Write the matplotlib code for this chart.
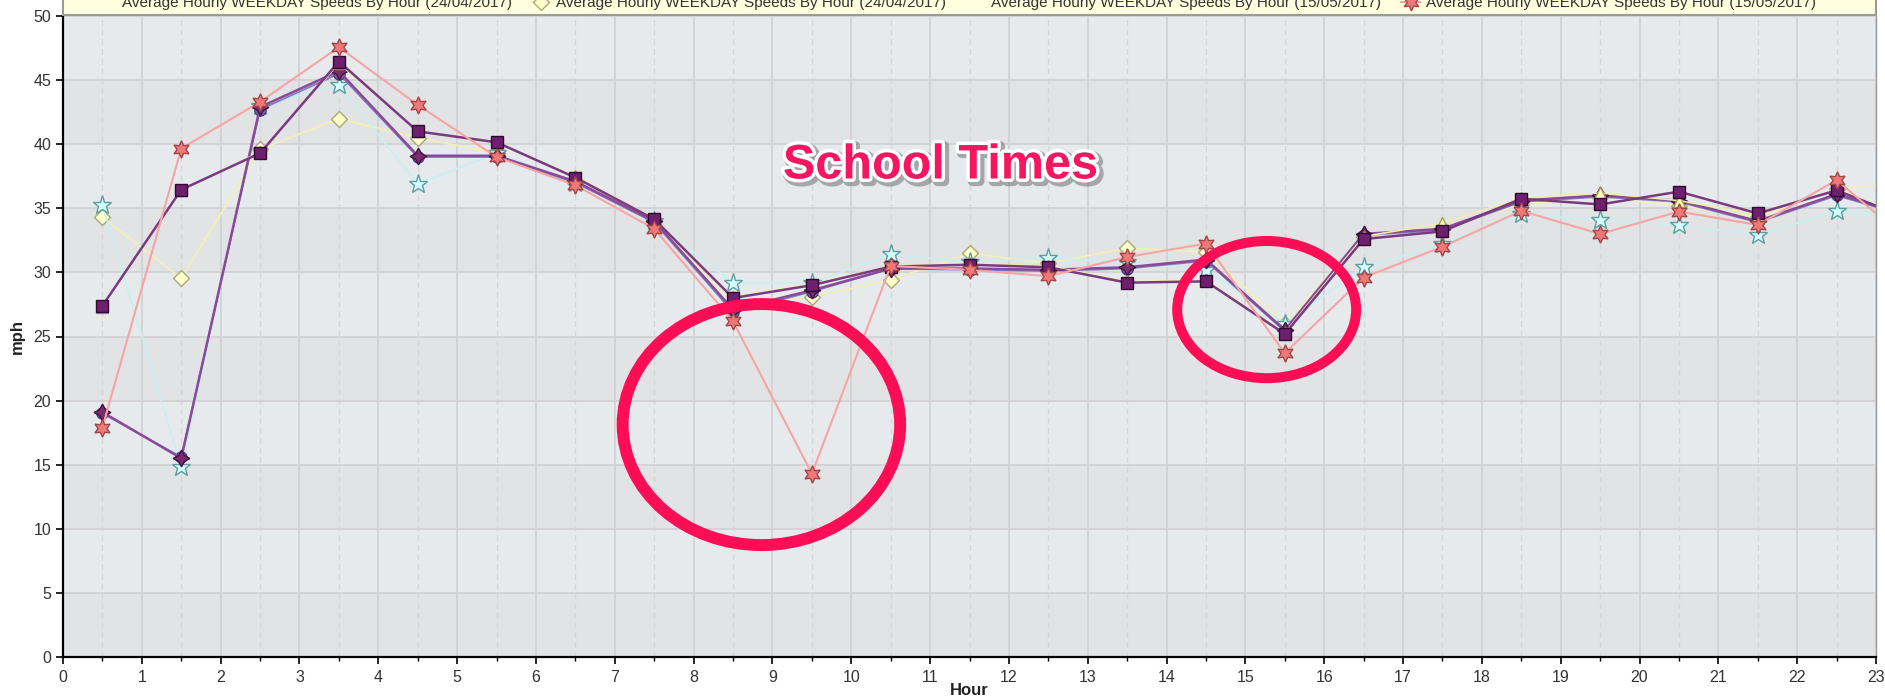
import matplotlib
matplotlib.use("Agg")
import matplotlib.pyplot as plt
from matplotlib.lines import Line2D
from matplotlib.patches import Ellipse, Rectangle
import matplotlib.patheffects as pe
import numpy as np

plt.rcParams['font.family'] = ['Liberation Sans', 'DejaVu Sans']

# ---------------- data ----------------
hours = [0.5, 1.5, 2.5, 3.5, 4.5, 5.5, 6.5, 7.5, 8.5, 9.5, 10.5, 11.5,
         12.5, 13.5, 14.5, 15.5, 16.5, 17.5, 18.5, 19.5, 20.5, 21.5, 22.5, 23.5]

sq_vals = [27.4, 36.45, 39.3, 46.45, 41.0, 40.15, 37.4, 34.15, 28.0, 29.0, 30.45, 30.6,
           30.4, 29.2, 29.3, 25.2, 32.6, 33.2, 35.75, 35.3, 36.3, 34.6, 36.4, 34.0]
star4_vals = [19.1, 15.5, 42.9, 45.7, 39.1, 39.1, 37.1, 34.0, 27.1, 28.6, 30.3, 30.3,
              30.2, 30.4, 31.0, 25.5, 33.0, 33.4, 35.6, 36.0, 35.6, 34.0, 36.1, 34.3]
circle_vals = [19.0, 15.6, 42.7, 45.5, 39.0, 39.0, 37.0, 33.9, 26.9, 28.5, 30.3, 30.2,
               30.1, 30.3, 30.9, 25.4, 32.9, 33.3, 35.5, 35.9, 35.5, 33.9, 36.0, 34.2]
tri_vals = [27.3, 36.4, 39.4, 46.3, 41.0, 40.1, 37.5, 34.2, 28.1, 29.1, 30.5, 30.7,
            30.5, 29.3, 29.4, 25.3, 32.8, 33.85, 35.8, 36.2, 35.6, 34.5, 36.5, 34.1]
diamond_vals = [34.3, 29.55, 39.6, 42.0, 40.5, 39.3, 37.0, 34.0, 27.5, 28.1, 29.4, 31.5,
                30.7, 31.9, 31.6, 26.0, 32.8, 33.5, 35.3, 35.9, 35.2, 34.3, 36.5, 37.1]
cyan_vals = [35.25, 14.8, 43.0, 44.6, 36.9, 39.3, 37.0, 34.0, 29.2, 29.2, 31.4, 30.8,
             31.1, 30.8, 30.2, 26.0, 30.4, 32.2, 34.55, 34.1, 33.7, 32.9, 34.8, 34.4]
red_vals = [17.9, 39.66, 43.3, 47.57, 43.06, 39.0, 36.8, 33.4, 26.2, 14.3, 30.5, 30.2,
            29.7, 31.2, 32.25, 23.7, 29.6, 32.0, 34.8, 33.0, 34.75, 33.7, 37.2, 32.0]

legend_labels = ["Average Hourly WEEKDAY Speeds By Hour (24/04/2017)",
                 "Average Hourly WEEKDAY Speeds By Hour (24/04/2017)",
                 "Average Hourly WEEKDAY Speeds By Hour (15/05/2017)",
                 "Average Hourly WEEKDAY Speeds By Hour (15/05/2017)"]
annotation_text = "School Times"

# ---------------- figure ----------------
W, H = 1885, 698
fig = plt.figure(figsize=(W / 100, H / 100), dpi=100)
L, R, B, T = 63 / W, 1876 / W, 1 - 657 / H, 1 - 16 / H
ax = fig.add_axes([L, B, R - L, T - B])
ax.set_xlim(0, 23)
ax.set_ylim(0, 50)

for k in range(10):
    ax.axhspan(k * 5, (k + 1) * 5, color='#E7EAED' if k % 2 else '#E2E3E5', lw=0, zorder=0)

ax.set_xticks(range(24))
ax.set_xticks(np.arange(0.5, 23, 1), minor=True)
ax.set_yticks(range(0, 51, 5))
ax.grid(which='major', axis='both', color='#D2D2D4', lw=1.3, zorder=0.5)
ax.grid(which='minor', axis='x', color='#D6D6D8', lw=1.0, ls=(0, (4, 3)), zorder=0.5)
ax.set_axisbelow(True)

styles = [
    (diamond_vals, dict(marker='D', ms=8, mfc='#FFFFCC', mec='#A8A878', color='#F2EFB8', lw=1.3)),
    (cyan_vals, dict(marker='*', ms=14, mfc='#D2FFFF', mec='#5E9E9E', color='#C8F0F0', lw=1.3)),
    (circle_vals, dict(marker='o', ms=8, mfc='#6C6CC0', mec='#404080', color='#8080C8', lw=1.3)),
    (star4_vals, dict(marker=(4, 1, 0), ms=12, mfc='#7B2B70', mec='#4A1040', color='#8B4A95', lw=1.8)),
    (tri_vals, dict(marker='^', ms=8, mfc='#FFFFB0', mec='#A0A060', color='#F0EDB0', lw=1.2)),
    (sq_vals, dict(marker='s', ms=8.7, mfc='#6E1F6E', mec='#2E0A30', color='#7A3A82', lw=1.8)),
    (red_vals, dict(marker=(6, 1, 0), ms=12.5, mfc='#F07878', mec='#A04848', color='#F6A5A5', lw=1.5)),
]
for i, (vals, st) in enumerate(styles):
    ax.plot(hours, vals, zorder=2 + i * 0.1, mew=1.0, **st)

for sp in ['left', 'bottom']:
    ax.spines[sp].set_color('black')
    ax.spines[sp].set_linewidth(1.6)
ax.spines['right'].set_color('#9A9A9A')
ax.spines['right'].set_linewidth(1.0)
ax.spines['top'].set_visible(False)

ax.tick_params(which='major', length=5, width=1.2, labelsize=11.5, labelcolor='#333333', pad=4)
ax.tick_params(axis='y', pad=3.5)
ax.tick_params(which='minor', length=3, width=1.0)

ax.set_xlabel('Hour', fontsize=12, fontweight='bold', color='#222222')
ax.set_ylabel('mph', fontsize=12, fontweight='bold', color='#222222')
ax.xaxis.set_label_coords(0.5, -0.040)
ax.yaxis.set_label_coords(-0.0213, 0.5)

# ellipses
ax.add_patch(Ellipse((8.86, 18.13), 3.52, 18.8, fill=False, ec='#FC0E57', lw=8.6, zorder=5))
ax.add_patch(Ellipse((15.27, 27.1), 2.27, 10.7, fill=False, ec='#FC0E57', lw=7.2, zorder=5))

ax.text(11.13, 38.3, annotation_text, fontsize=35, fontweight='bold', color='#F5165F',
        ha='center', va='center', zorder=6,
        path_effects=[pe.Stroke(linewidth=7, foreground='#555555', alpha=0.45, offset=(2, -2)),
                      pe.Stroke(linewidth=5, foreground='white'), pe.Normal()])

# legend band (partially cut at the top, as in the reference)
fig.add_artist(Rectangle((L, 1 - 15 / H), R - L, 15 / H + 0.02, transform=fig.transFigure,
                         fc='#FFFFE0', ec='#9A9A9A', lw=1.5, clip_on=False, zorder=1))
blank = Line2D([], [], color='none')
diamond_h = Line2D([], [], marker='D', ms=8, mfc='#FFFFCC', mec='#A8A878', color='#F2EFB8', lw=1.3)
red_h = Line2D([], [], marker=(6, 1, 0), ms=12, mfc='#F07878', mec='#A04848', color='#F6A5A5', lw=1.5)
leg = fig.legend([blank, diamond_h, blank, red_h], legend_labels, loc='center',
                 bbox_to_anchor=((L + R) / 2 - 13 / W, 1 - 3 / H), ncol=4, frameon=False,
                 fontsize=11, handlelength=1.2, handletextpad=0.4, columnspacing=1.33,
                 borderaxespad=0, borderpad=0)
for t in leg.get_texts():
    t.set_color('#333333')
leg.set_zorder(2)

fig.savefig('out.png', dpi=100)
